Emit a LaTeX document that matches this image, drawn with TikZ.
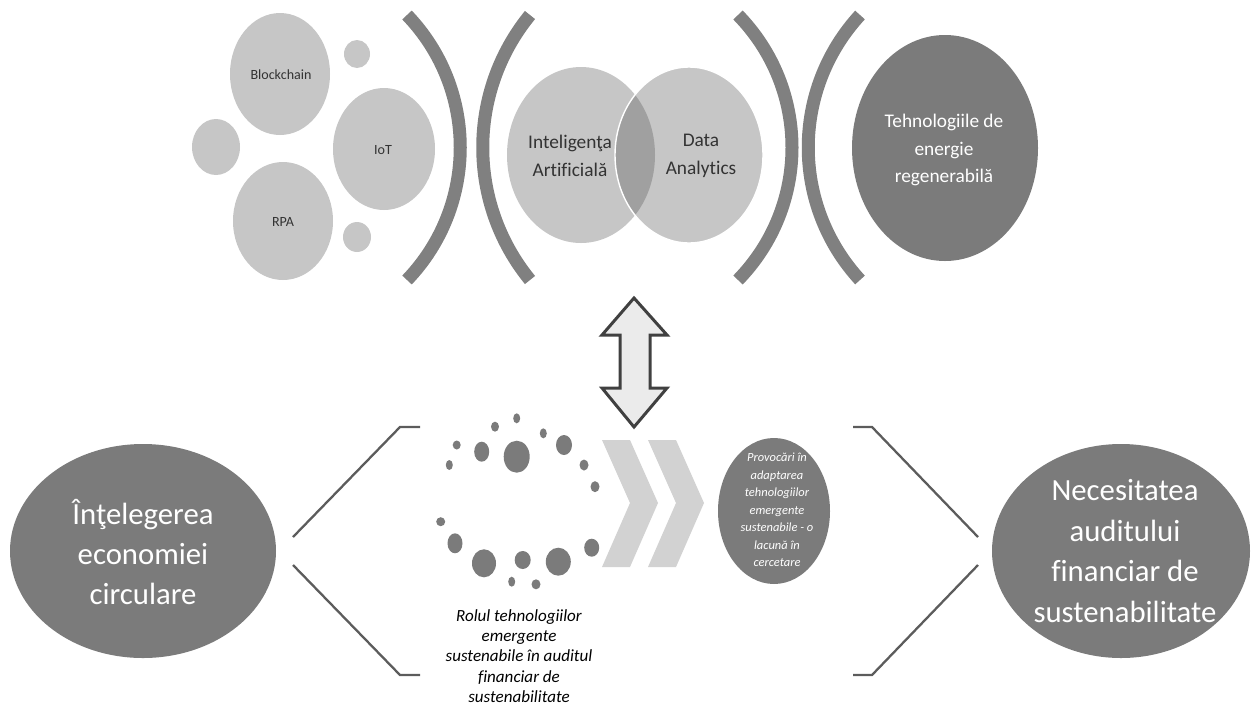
\documentclass[tikz,border=0pt]{standalone}
\usepackage{fontspec}
\setmainfont{Carlito}[Ligatures=NoCommon]
\usepackage{tikz}
\usetikzlibrary{calc}
\definecolor{lightbub}{HTML}{C6C6C6}
\definecolor{darkbub}{HTML}{7B7B7B}
\definecolor{overlapgray}{HTML}{A0A0A0}
\definecolor{bracketgray}{HTML}{808080}
\definecolor{chevgray}{HTML}{D2D2D2}
\definecolor{linegray}{HTML}{5C5C5C}

\begin{document}
\begin{tikzpicture}[x=0.02cm, y=-0.02cm,
		light/.style={fill=lightbub},
		dark/.style={fill=darkbub},
		paren/.style={draw=bracketgray, line width=7.4pt},
		chev/.style={fill=chevgray},
		wedge/.style={draw=linegray, line width=1.3pt},
		smalltxt/.style={text=black!80, font=\fontsize{8}{10}\selectfont},
		venntxt/.style={align=center, text=black!80, font=\fontsize{11}{16}\selectfont},
		bigtxt/.style={align=center, text=white, font=\fontsize{17.5}{23}\selectfont}]
			\useasboundingbox (0,0) rectangle (1251,711);
			% top row: small technologies
			\fill[light] (280,74) ellipse [x radius=50, y radius=61];
			\fill[light] (357,54) ellipse [x radius=13, y radius=14];
			\fill[light] (216,147) ellipse [x radius=24, y radius=28];
			\fill[light] (384,149) ellipse [x radius=51, y radius=61];
			\fill[light] (283,221) ellipse [x radius=50, y radius=59];
			\fill[light] (357,237) ellipse [x radius=14, y radius=15];
			\node[smalltxt] (blockchain) at (281,75) {Blockchain};
			\node[smalltxt] (iot) at (383,150) {IoT};
			\node[smalltxt] (rpa) at (283,222) {RPA};
			% brackets
			\draw[paren] (407,15) .. controls (478,89) and (478,206) .. (407,280);
			\draw[paren] (530,15) .. controls (467,92) and (467,203) .. (530,280);
			\draw[paren] (738,15) .. controls (810,89) and (810,206) .. (738,280);
			\draw[paren] (860,15) .. controls (791,90) and (791,205) .. (860,280);
			% venn
			\fill[light] (581,155) ellipse [x radius=74, y radius=88];
			\fill[light] (689,155) ellipse [x radius=74, y radius=88];
			\begin{scope}
				\clip (581,155) ellipse [x radius=74, y radius=88];
				\fill[overlapgray] (689,155) ellipse [x radius=74, y radius=88];
			\end{scope}
			\draw[white, line width=0.8pt] (689,155) ellipse [x radius=74, y radius=88];
			\node[venntxt] (ai) at (570,156) {Inteligenţa\\Artificială};
			\node[venntxt] (analytics) at (701,156) {Data\\Analytics};
			% renewable energy
			\fill[dark] (945,148) ellipse [x radius=93, y radius=113];
			\node[venntxt, text=white, font=\fontsize{11}{15.5}\selectfont] (energie) at (944,150) {Tehnologiile de\\energie\\regenerabilă};
			% double arrow
			\filldraw[fill=black!8, draw=black!75, line width=1.7pt, line join=miter]
				(634,298) -- (667,335) -- (650,335) -- (650,388) -- (667,388) -- (634,427)
				-- (602,388) -- (620,388) -- (620,335) -- (602,335) -- cycle;
			% bottom row
			\fill[dark] (143,551) ellipse [x radius=133, y radius=107];
			\node[bigtxt] (economie) at (143,552) {Înţelegerea\\economiei\\circulare};
			\fill[dark] (1121,551) ellipse [x radius=129, y radius=107];
			\node[bigtxt] (necesitate) at (1125,551) {Necesitatea\\auditului\\financiar de\\sustenabilitate};
			\draw[wedge] (420,427) -- (400,427) -- (293,537);
			\draw[wedge] (293,565) -- (400,675) -- (420,675);
			\draw[wedge] (853,427) -- (872,427) -- (978,537);
			\draw[wedge] (978,565) -- (872,675) -- (853,675);
			% ring of dots
			\fill[dark] (516.7,418.3) ellipse [x radius=3.5, y radius=5]
				(495,426.7) ellipse [x radius=4, y radius=5]
				(543.3,433.3) ellipse [x radius=3.5, y radius=5]
				(456.7,445) ellipse [x radius=4, y radius=4.5]
				(481.7,451.7) ellipse [x radius=7.5, y radius=10]
				(516.7,456.7) ellipse [x radius=13, y radius=16]
				(564,445) ellipse [x radius=8, y radius=10]
				(449.3,465) ellipse [x radius=3.5, y radius=5]
				(584,465) ellipse [x radius=4.5, y radius=5.5]
				(595,486.7) ellipse [x radius=4.5, y radius=5.5]
				(440.7,521.7) ellipse [x radius=4.5, y radius=4.5]
				(455,543.3) ellipse [x radius=7.5, y radius=10]
				(591.7,547.7) ellipse [x radius=7.5, y radius=9]
				(484,563.3) ellipse [x radius=12, y radius=14]
				(522.7,560) ellipse [x radius=8, y radius=9]
				(558.3,561.7) ellipse [x radius=12.5, y radius=14]
				(511.7,581.7) ellipse [x radius=3.5, y radius=5]
				(536,584.3) ellipse [x radius=4.5, y radius=5];
			\node[align=center, anchor=north, font=\fontsize{9.7}{11.6}\selectfont\itshape] (rolul) at (519,603)
				{Rolul tehnologiilor\\emergente\\sustenabile în auditul\\financiar de\\sustenabilitate};
			% chevrons
			\fill[chev] (602,440) -- (630,440) -- (658,503) -- (630,567) -- (602,567) -- (630,503) -- cycle;
			\fill[chev] (648,440) -- (676,440) -- (704,503) -- (676,567) -- (648,567) -- (676,503) -- cycle;
			% gap in research
			\fill[dark] (774,511) ellipse [x radius=56, y radius=73];
			\node[align=center, text=white, font=\fontsize{7.1}{10}\selectfont\itshape] (provocari) at (777,510)
				{Provocări în\\adaptarea\\tehnologiilor\\emergente\\sustenabile - o\\lacună în\\cercetare};
		\end{tikzpicture}
\end{document}
